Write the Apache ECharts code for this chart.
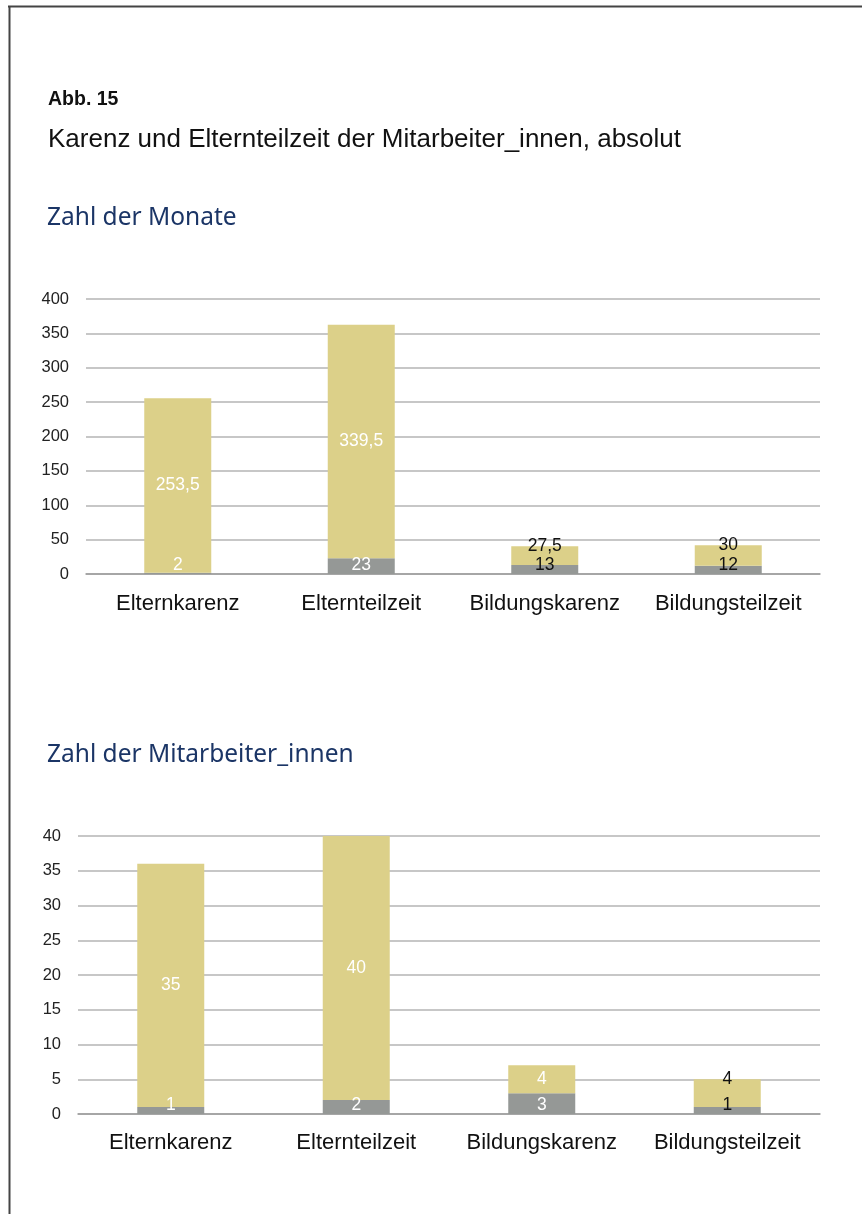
<!DOCTYPE html>
<html>
<head>
<meta charset="utf-8">
<script src="https://cdn.jsdelivr.net/npm/echarts@6/dist/echarts.min.js"></script>
<style>
  html, body { margin: 0; padding: 0; background: #fff; }
  #chart { width: 862px; height: 1214px; }
</style>
</head>
<body>
<div id="chart"></div>
<script>
// Kategorien
var categories = ['Elternkarenz', 'Elternteilzeit', 'Bildungskarenz', 'Bildungsteilzeit'];

// Zahl der Monate
var monateGrau = [2, 23, 13, 12];
var monateGelb = [253.5, 339.5, 27.5, 30];
var monateTicks = [0, 50, 100, 150, 200, 250, 300, 350, 400];

// Zahl der Mitarbeiter_innen
var personenGrau = [1, 2, 3, 1];
var personenGelb = [35, 40, 4, 4];
var personenTicks = [0, 5, 10, 15, 20, 25, 30, 35, 40];

// labels drawn in black because they don't fit in the bar
var dunkelMonate = [2, 3];
var dunkelPersonen = [3];

var sans = '"Liberation Sans", Arial, sans-serif';
var gelb = '#dcd089';
var grau = '#959896';

function komma(p) {
    return String(p.value).replace('.', ',');
}

function grauData(values, dunkel) {
    return values.map(function (v, i) {
        if (dunkel.indexOf(i) < 0) return v;
        return { value: v, label: { color: '#111' } };
    });
}

function gelbData(values, dunkel) {
    return values.map(function (v, i) {
        if (dunkel.indexOf(i) < 0) return v;
        return { value: v, label: { color: '#111', position: 'top', distance: -9 } };
    });
}

function yAxis(idx, ticks) {
    return {
        type: 'value',
        gridIndex: idx,
        min: ticks[0],
        max: ticks[ticks.length - 1],
        interval: ticks[1] - ticks[0],
        axisLine: { show: false },
        axisTick: { show: false },
        axisLabel: { color: '#222', fontSize: 16.5, fontFamily: sans, margin: 17 },
        splitLine: { lineStyle: { color: '#b4b4b4', width: 1.5 } }
    };
}

function xAxis(idx, margin) {
    return {
        type: 'category',
        gridIndex: idx,
        data: categories,
        axisLine: { lineStyle: { color: '#9c9c9c', width: 1.5 } },
        axisTick: { show: false },
        axisLabel: { color: '#111', fontSize: 22, fontFamily: sans, margin: margin, interval: 0 }
    };
}

var labelBase = { show: true, color: '#fff', fontSize: 17.5, fontFamily: sans, formatter: komma };

var myChart = echarts.init(document.getElementById('chart'));
var option = {
    animation: false,
    backgroundColor: '#fff',
    title: [
        { text: 'Abb. 15', left: 48, top: 90, padding: 0,
          textStyle: { fontSize: 19.5, fontWeight: 'bold', color: '#111', fontFamily: sans } },
        { text: 'Karenz und Elternteilzeit der Mitarbeiter_innen, absolut', left: 48, top: 127, padding: 0,
          textStyle: { fontSize: 26, fontWeight: 'normal', color: '#111', fontFamily: sans } },
        { text: 'Zahl der Monate', left: 47, top: 206, padding: 0,
          textStyle: { fontSize: 24.5, fontWeight: 'normal', color: '#1b3566', fontFamily: '"Noto Sans", sans-serif' } },
        { text: 'Zahl der Mitarbeiter_innen', left: 47, top: 743, padding: 0,
          textStyle: { fontSize: 24.5, fontWeight: 'normal', color: '#1b3566', fontFamily: '"Noto Sans", sans-serif' } }
    ],
    graphic: [
        { type: 'line', shape: { x1: 8, y1: 6.5, x2: 862, y2: 6.5 }, style: { stroke: '#444', lineWidth: 2 } },
        { type: 'line', shape: { x1: 9.5, y1: 6, x2: 9.5, y2: 1214 }, style: { stroke: '#444', lineWidth: 2 } }
    ],
    grid: [
        { left: 86, right: 42, top: 299, height: 275 },
        { left: 78, right: 42, top: 836, height: 278 }
    ],
    xAxis: [xAxis(0, 19), xAxis(1, 18)],
    yAxis: [yAxis(0, monateTicks), yAxis(1, personenTicks)],
    series: [
        { type: 'bar', name: 'Monate grau', xAxisIndex: 0, yAxisIndex: 0, stack: 'm',
          barWidth: 67, itemStyle: { color: grau },
          label: Object.assign({}, labelBase, { position: 'insideBottom', distance: 0 }),
          data: grauData(monateGrau, dunkelMonate) },
        { type: 'bar', name: 'Monate gelb', xAxisIndex: 0, yAxisIndex: 0, stack: 'm',
          barWidth: 67, itemStyle: { color: gelb },
          label: Object.assign({}, labelBase, { position: 'inside' }),
          data: gelbData(monateGelb, dunkelMonate) },
        { type: 'bar', name: 'Personen grau', xAxisIndex: 1, yAxisIndex: 1, stack: 'p',
          barWidth: 67, itemStyle: { color: grau },
          label: Object.assign({}, labelBase, { position: 'insideBottom', distance: 0 }),
          data: grauData(personenGrau, dunkelPersonen) },
        { type: 'bar', name: 'Personen gelb', xAxisIndex: 1, yAxisIndex: 1, stack: 'p',
          barWidth: 67, itemStyle: { color: gelb },
          label: Object.assign({}, labelBase, { position: 'inside' }),
          data: gelbData(personenGelb, dunkelPersonen) }
    ]
};
myChart.setOption(option);
</script>
</body>
</html>
